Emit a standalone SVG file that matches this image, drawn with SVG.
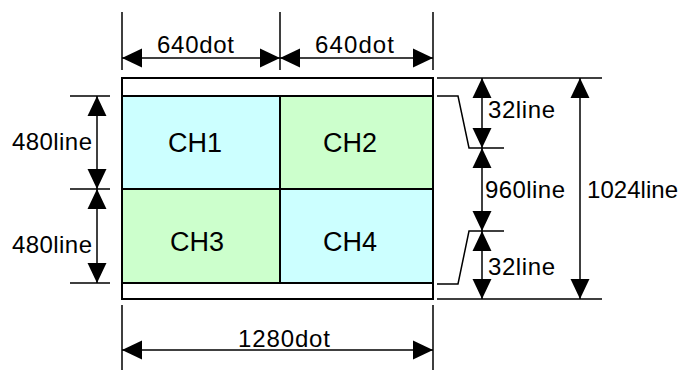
<svg xmlns="http://www.w3.org/2000/svg" width="682" height="370" viewBox="0 0 682 370">
<style>
.t{font-family:"Liberation Sans",Arial,sans-serif;font-size:24px;fill:#000}
.ch{font-family:"Liberation Sans",Arial,sans-serif;font-size:27px;fill:#000;text-anchor:middle}
.l{stroke:#000;stroke-width:1.5;fill:none}
.cell{stroke:#000;stroke-width:2}
.a{stroke:#000;stroke-width:1.5;fill:none;marker-start:url(#ah);marker-end:url(#ah)}
</style>
<defs>
<marker id="ah" markerUnits="userSpaceOnUse" markerWidth="20" markerHeight="20" refX="19" refY="9" orient="auto-start-reverse" viewBox="0 0 19 18">
<path d="M0,0 L19,9 L0,18 z" fill="#000"/>
</marker>
</defs>
<g id="frame"><rect x="122" y="78" width="311" height="221" fill="#fff" class="cell"/></g>
<g id="ch1"><rect x="122" y="96" width="158" height="93" fill="#CCFFFF" class="cell"/><text class="ch" x="195" y="152">CH1</text></g>
<g id="ch2"><rect x="280" y="96" width="153" height="93" fill="#CCFFCC" class="cell"/><text class="ch" x="350" y="152">CH2</text></g>
<g id="ch3"><rect x="122" y="189" width="158" height="94" fill="#CCFFCC" class="cell"/><text class="ch" x="197" y="251">CH3</text></g>
<g id="ch4"><rect x="280" y="189" width="153" height="94" fill="#CCFFFF" class="cell"/><text class="ch" x="350" y="251">CH4</text></g>
<g id="connectors">
<path class="l" d="M122,12 V70 M280,12 V70 M433,12 V70"/>
<line class="a" x1="122" y1="58" x2="280" y2="58"/>
<line class="a" x1="280" y1="58" x2="433" y2="58"/>
<path class="l" d="M122,305 V370 M433,305 V370"/>
<line class="a" x1="122" y1="350" x2="433" y2="350"/>
<path class="l" d="M70,96 H110 M70,189 H110 M70,283 H110"/>
<line class="a" x1="97" y1="96" x2="97" y2="189"/>
<line class="a" x1="97" y1="189" x2="97" y2="283"/>
<path class="l" d="M437,78 H602 M437,299 H602"/>
<line class="a" x1="580" y1="78" x2="580" y2="299"/>
<path class="l" d="M437,96 H458 L469,148 H504 M437,284 H458 L469,231 H504"/>
<line class="a" x1="482" y1="78" x2="482" y2="148"/>
<line class="a" x1="482" y1="148" x2="482" y2="231"/>
<line class="a" x1="482" y1="231" x2="482" y2="299"/>
</g>
<g id="labels">
<text class="t" x="157" y="53" textLength="77">640dot</text>
<text class="t" x="315" y="53" textLength="79">640dot</text>
<text class="t" x="238" y="347" textLength="92">1280dot</text>
<text class="t" x="12" y="150" textLength="80">480line</text>
<text class="t" x="12" y="253" textLength="80">480line</text>
<text class="t" x="488" y="118" textLength="67">32line</text>
<text class="t" x="485" y="198" textLength="80">960line</text>
<text class="t" x="488" y="275" textLength="67">32line</text>
<text class="t" x="587" y="198" textLength="91">1024line</text>
</g>
</svg>
